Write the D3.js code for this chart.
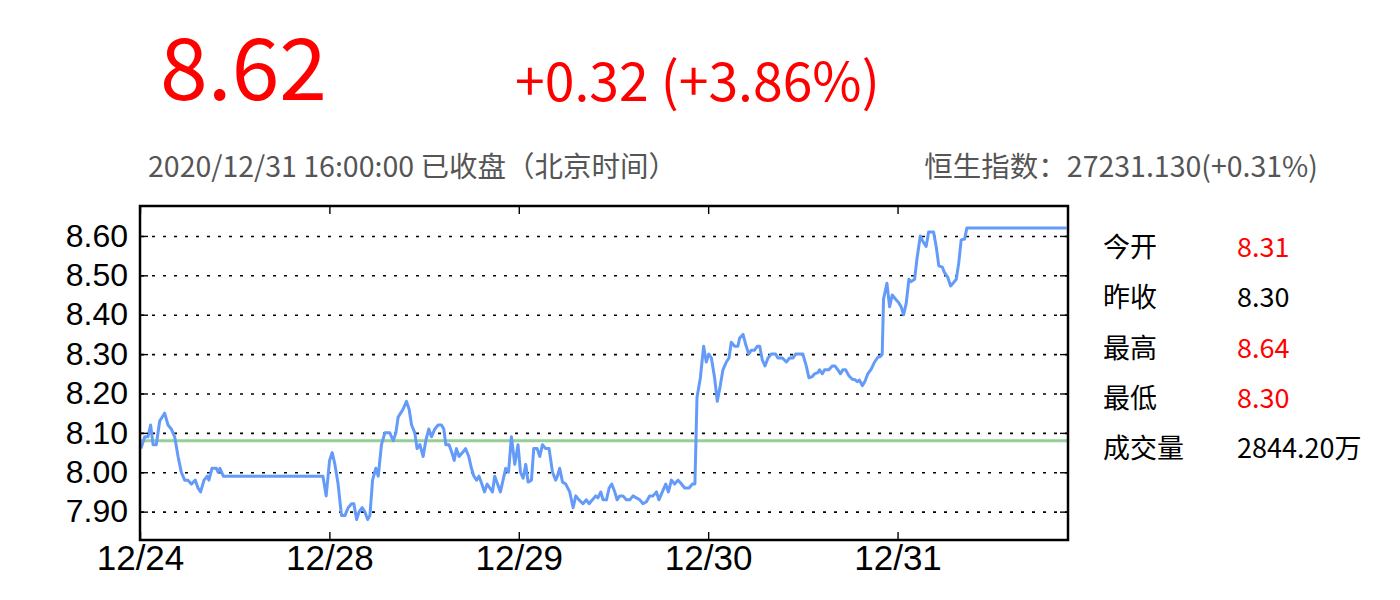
<!DOCTYPE html>
<html><head><meta charset="utf-8">
<script src="https://cdn.jsdelivr.net/npm/d3@7"></script>
<style>body{margin:0;background:#fff}text{font-family:"Noto Sans CJK SC","Noto Sans",sans-serif}</style>
</head><body><svg id="c" width="1400" height="600"></svg>
<script>
// ---- data ----
const dayLabels = ["12/24","12/28","12/29","12/30","12/31"];
const dayTicks = [0,1,2,3,4];
const yTicks = [7.9,8.0,8.1,8.2,8.3,8.4,8.5,8.6];
const refLevel = 8.08;
const times = [0.005,0.025,0.042,0.056,0.069,0.086,0.104,0.130,0.148,0.165,
0.183,0.201,0.218,0.236,0.253,0.271,0.292,0.306,0.320,0.338,
0.355,0.364,0.380,0.403,0.412,0.422,0.440,0.966,0.983,1.001,
1.015,1.029,1.046,1.064,1.082,1.099,1.117,1.129,1.144,1.157,
1.173,1.187,1.202,1.214,1.228,1.245,1.258,1.275,1.293,1.319,
1.337,1.351,1.363,1.389,1.407,1.421,1.434,1.451,1.463,1.478,
1.495,1.509,1.525,1.539,1.557,1.574,1.592,1.604,1.615,1.632,
1.650,1.659,1.671,1.685,1.703,1.719,1.736,1.750,1.763,1.777,
1.790,1.805,1.819,1.833,1.847,1.861,1.873,1.888,1.903,1.917,
1.931,1.946,1.961,1.979,1.996,2.009,2.023,2.037,2.049,2.067,
2.079,2.097,2.111,2.125,2.142,2.160,2.178,2.195,2.204,2.216,
2.231,2.248,2.269,2.287,2.301,2.318,2.339,2.357,2.371,2.389,
2.406,2.418,2.433,2.445,2.463,2.477,2.491,2.507,2.519,2.533,
2.550,2.568,2.586,2.603,2.621,2.639,2.656,2.674,2.691,2.709,
2.727,2.740,2.758,2.776,2.790,2.806,2.823,2.841,2.859,2.876,
2.899,2.917,2.930,2.941,2.959,2.976,2.990,3.003,3.017,3.034,
3.048,3.064,3.078,3.096,3.110,3.122,3.140,3.157,3.166,3.184,
3.198,3.214,3.228,3.245,3.260,3.272,3.286,3.300,3.316,3.333,
3.356,3.368,3.392,3.413,3.430,3.448,3.462,3.500,3.518,3.532,
3.550,3.562,3.579,3.588,3.603,3.615,3.637,3.655,3.669,3.685,
3.699,3.711,3.726,3.743,3.761,3.775,3.787,3.799,3.814,3.827,
3.843,3.861,3.879,3.896,3.910,3.919,3.926,3.944,3.958,3.972,
3.989,4.007,4.019,4.032,4.046,4.060,4.072,4.090,4.102,4.120,
4.134,4.151,4.164,4.190,4.204,4.218,4.236,4.248,4.265,4.280,
4.295,4.310,4.323,4.336,4.354,4.366,4.892];
const prices = [8.06,8.09,8.09,8.12,8.07,8.07,8.13,8.15,8.12,8.11,
8.09,8.04,8.00,7.98,7.98,7.97,7.98,7.96,7.95,7.98,
7.99,7.98,8.01,8.01,8.00,8.01,7.99,7.99,7.94,8.03,
8.05,8.02,7.97,7.89,7.89,7.91,7.92,7.92,7.88,7.90,
7.91,7.90,7.88,7.89,7.98,8.01,7.99,8.07,8.10,8.10,
8.08,8.10,8.14,8.16,8.18,8.16,8.12,8.10,8.06,8.07,
8.04,8.08,8.11,8.09,8.11,8.12,8.12,8.11,8.07,8.07,
8.045,8.03,8.06,8.04,8.05,8.06,8.04,8.01,7.99,7.98,
7.99,7.97,7.95,7.97,7.96,7.95,7.99,7.97,7.95,7.98,
8.01,8.00,8.09,8.02,8.07,8.00,7.985,8.02,7.975,7.98,
8.06,8.06,8.04,8.07,8.06,8.06,8.00,7.98,7.99,8.01,
7.975,7.97,7.95,7.91,7.94,7.93,7.92,7.93,7.92,7.93,
7.94,7.935,7.95,7.93,7.93,7.96,7.97,7.95,7.93,7.94,
7.94,7.93,7.93,7.94,7.935,7.93,7.92,7.925,7.94,7.94,
7.95,7.93,7.95,7.97,7.95,7.98,7.97,7.98,7.97,7.96,
7.96,7.97,7.97,8.19,8.24,8.32,8.28,8.30,8.29,8.24,
8.18,8.22,8.26,8.28,8.29,8.33,8.32,8.32,8.34,8.35,
8.325,8.30,8.31,8.31,8.32,8.32,8.285,8.27,8.29,8.30,
8.30,8.29,8.29,8.28,8.29,8.29,8.30,8.30,8.27,8.24,
8.243,8.25,8.253,8.26,8.25,8.26,8.26,8.27,8.27,8.26,
8.25,8.26,8.26,8.245,8.236,8.235,8.23,8.234,8.22,8.23,
8.25,8.262,8.28,8.292,8.294,8.30,8.44,8.48,8.42,8.45,
8.44,8.43,8.42,8.40,8.43,8.49,8.484,8.49,8.54,8.60,
8.586,8.573,8.61,8.61,8.573,8.524,8.521,8.507,8.495,8.473,
8.481,8.49,8.531,8.59,8.592,8.62,8.62];
const lastPrice = "8.62";
const changeText = "+0.32 (+3.86%)";
const statusText = "2020/12/31 16:00:00 已收盘（北京时间）";
const indexText = "恒生指数：27231.130(+0.31%)";
const statLabels = ["今开","昨收","最高","最低","成交量"];
const statValues = ["8.31","8.30","8.64","8.30","2844.20万"];
const statUp = [true,false,true,true,false];

// ---- layout ----
const svg = d3.select("#c");
const L = 140, R = 1068, T = 206, B = 540;
const x = d3.scaleLinear().domain([0, 4.9]).range([L, R]);
const y = d3.scaleLinear().domain([7.828, 8.676]).range([B, T]);
const RED = "#ff0000", GRAY = "#555555";
const NUMFONT = '"Liberation Sans", Arial, sans-serif';

svg.append("rect").attr("width",1400).attr("height",600).attr("fill","#fff");

// header
svg.append("text").attr("x",160).attr("y",100).attr("fill",RED)
  .style("font-size","86px").text(lastPrice);
svg.append("text").attr("x",515).attr("y",101).attr("fill",RED)
  .style("font-size","53.5px").text(changeText);
svg.append("text").attr("x",148).attr("y",177).attr("fill",GRAY)
  .style("font-size","28.5px").text(statusText);
svg.append("text").attr("x",1318).attr("y",177).attr("fill",GRAY)
  .attr("text-anchor","end").style("font-size","28.5px").text(indexText);

// grid
const grid = svg.append("g").attr("transform",`translate(${L},0)`)
  .call(d3.axisLeft(y).tickValues(yTicks).tickSize(-(R-L)).tickFormat(""));
grid.select(".domain").remove();
grid.selectAll("line").attr("stroke","#000").attr("stroke-width",1.6)
  .attr("stroke-dasharray","3,8").attr("stroke-dashoffset",-1);

// reference line
svg.append("line").attr("x1",L).attr("x2",R).attr("y1",y(refLevel)).attr("y2",y(refLevel))
  .attr("stroke","#96cf96").attr("stroke-width",3);

// price line
const pts = d3.zip(times, prices);
svg.append("path").datum(pts)
  .attr("fill","none").attr("stroke","#649bf8").attr("stroke-width",3)
  .attr("stroke-linejoin","round")
  .attr("d", d3.line().x(d=>x(d[0])).y(d=>y(d[1])));

// axes
const fmt = d3.format(".2f");
const ax = (g)=>{g.select(".domain").remove(); g.selectAll("line").attr("stroke","#000").attr("stroke-width",1.4);};
svg.append("g").attr("transform",`translate(${L},0)`)
  .call(d3.axisLeft(y).tickValues(yTicks).tickSize(-8).tickPadding(12).tickFormat(fmt))
  .call(ax).selectAll("text").attr("fill","#000").style("font-size","32px").style("font-family",NUMFONT);
svg.append("g").attr("transform",`translate(${R},0)`)
  .call(d3.axisRight(y).tickValues(yTicks).tickSize(-8).tickFormat(""))
  .call(ax);
svg.append("g").attr("transform",`translate(0,${B})`)
  .call(d3.axisBottom(x).tickValues(dayTicks).tickSize(-8).tickPadding(5).tickFormat((d,i)=>dayLabels[i]))
  .call(ax).selectAll("text").attr("fill","#000").style("font-size","35px").style("font-family",NUMFONT);
svg.append("g").attr("transform",`translate(0,${T})`)
  .call(d3.axisTop(x).tickValues(dayTicks).tickSize(-8).tickFormat(""))
  .call(ax);

// frame
svg.append("rect").attr("x",L).attr("y",T).attr("width",R-L).attr("height",B-T)
  .attr("fill","none").attr("stroke","#000").attr("stroke-width",2.5);

// stats panel
const rows = svg.append("g").selectAll("g").data(statLabels).join("g")
  .attr("transform",(d,i)=>`translate(0,${256.7 + i*50.4})`);
rows.append("text").attr("x",1103).attr("fill","#000").style("font-size","27px").text(d=>d);
rows.append("text").attr("x",1237).attr("fill",(d,i)=>statUp[i]?RED:"#000")
  .style("font-size","27px").text((d,i)=>statValues[i]);
</script></body></html>
